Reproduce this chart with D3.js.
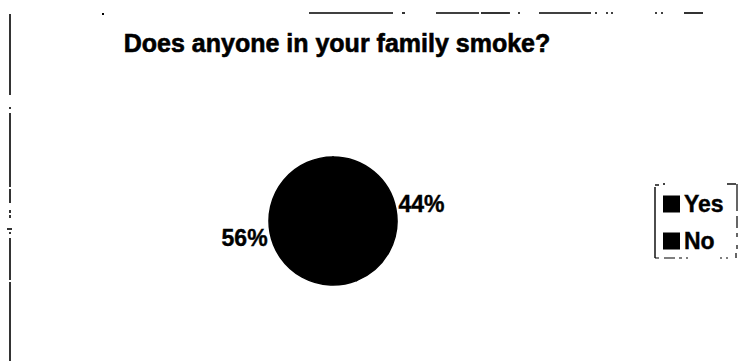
<!DOCTYPE html>
<html>
<head>
<meta charset="utf-8">
<script src="https://cdn.jsdelivr.net/npm/d3@7"></script>
<style>
  html, body { margin: 0; padding: 0; background: #fff; }
  svg { display: block; }
</style>
</head>
<body>
<svg id="chart" width="741" height="361"></svg>
<script>
// Survey answers and their shares (percent)
const categories = ["Yes", "No"];
const shares = [44, 56];
const sliceColors = ["#000000", "#000000"];

const svg = d3.select("#chart");
const font = "'Liberation Sans', Arial, Helvetica, sans-serif";

// Frame: broken left border and broken top rule
const frame = svg.append("g").attr("stroke", "#000").attr("fill", "none");
[[14, 95], [107, 109], [113, 187], [189, 203], [210, 213], [215, 218], [232, 234], [238, 280], [282, 361]]
  .forEach(([y0, y1]) => {
    frame.append("line").attr("x1", 10).attr("x2", 10).attr("y1", y0).attr("y2", y1)
      .attr("stroke-width", 1.6);
  });
frame.append("line").attr("x1", 7).attr("x2", 12).attr("y1", 229).attr("y2", 229)
  .attr("stroke-width", 1.6);
[[309, 393], [402, 405], [436, 479], [481, 510], [518, 520], [539, 591], [595, 597],
 [606, 608], [611, 613], [655, 657], [661, 663], [684, 703]]
  .forEach(([x0, x1]) => {
    frame.append("line").attr("x1", x0).attr("x2", x1).attr("y1", 13).attr("y2", 13)
      .attr("stroke-width", 1.6);
  });
frame.append("rect").attr("x", 102).attr("y", 13).attr("width", 2).attr("height", 2)
  .attr("fill", "#000").attr("stroke", "none");

// Title
svg.append("text")
  .attr("x", 337).attr("y", 52)
  .attr("text-anchor", "middle")
  .attr("font-family", font)
  .attr("font-weight", "bold")
  .attr("font-size", 25)
  .attr("stroke", "#000")
  .attr("stroke-width", 0.6)
  .text("Does anyone in your family smoke?");

// Pie
const cx = 333, cy = 221, r = 64;
const data = categories.map((c, i) => ({ cat: c, value: shares[i], color: sliceColors[i] }));
const pie = d3.pie().value(d => d.value).sort(null);
const arcs = pie(data);
const arc = d3.arc().innerRadius(0).outerRadius(r);
const labelArc = d3.arc().innerRadius(r + 26).outerRadius(r + 26);

const g = svg.append("g").attr("transform", `translate(${cx},${cy})`);
g.selectAll("path.slice")
  .data(arcs)
  .join("path")
  .attr("class", "slice")
  .attr("d", arc)
  .attr("fill", d => d.data.color)
  .attr("stroke", d => d.data.color)
  .attr("stroke-width", 1.5);

g.selectAll("text.pct")
  .data(arcs)
  .join("text")
  .attr("class", "pct")
  .attr("transform", d => {
    const [x, y] = labelArc.centroid(d);
    return `translate(${x},${y})`;
  })
  .attr("text-anchor", "middle")
  .attr("dominant-baseline", "central")
  .attr("font-family", font)
  .attr("font-weight", "bold")
  .attr("font-size", 23)
  .attr("stroke", "#000")
  .attr("stroke-width", 0.4)
  .text(d => d.data.value + "%");

// Legend
const legend = svg.append("g").attr("transform", "translate(655,183)");
const border = legend.append("g").attr("stroke", "#000").attr("stroke-width", 1.4).attr("fill", "none");
border.append("line").attr("x1", 0).attr("x2", 0).attr("y1", 4).attr("y2", 75);
border.append("line").attr("x1", 0).attr("x2", 4).attr("y1", 2).attr("y2", 2);
border.append("line").attr("x1", 8).attr("x2", 10).attr("y1", 1).attr("y2", 1);
border.append("line").attr("x1", 72).attr("x2", 81).attr("y1", 1).attr("y2", 1);
border.append("path").attr("d", "M82,1 V28 M82,33 V45 M82,50 V54 M82,62 V66 M81,70 V75")
  .attr("stroke-width", 1.2);
border.append("path").attr("d", "M0,75 H4 M9,75 H20 M24,75 H27 M31,75 H33 M65,75 H67 M71,75 H73")
  .attr("stroke-width", 1.2);

const item = legend.selectAll("g.item")
  .data(data)
  .join("g")
  .attr("class", "item")
  .attr("transform", (d, i) => `translate(8,${21 + i * 37})`);
item.append("rect")
  .attr("x", 0).attr("y", -8.5)
  .attr("width", 17).attr("height", 17)
  .attr("fill", d => d.color);
item.append("text")
  .attr("x", 21).attr("y", 0)
  .attr("dominant-baseline", "central")
  .attr("font-family", font)
  .attr("font-weight", "bold")
  .attr("font-size", 23)
  .attr("stroke", "#000")
  .attr("stroke-width", 0.4)
  .text(d => d.cat);
</script>
</body>
</html>
